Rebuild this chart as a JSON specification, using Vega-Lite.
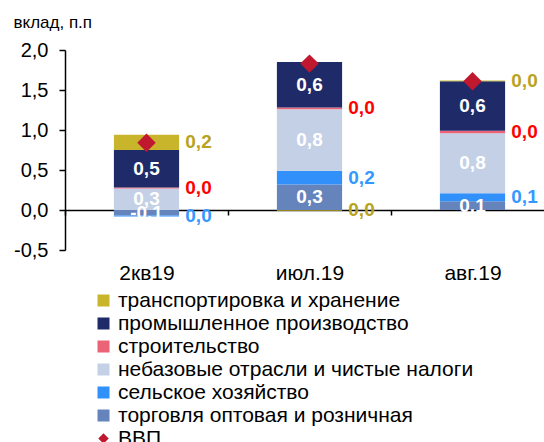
{
  "$schema": "https://vega.github.io/schema/vega-lite/v6.json",
  "width": 479,
  "height": 200,
  "autosize": {"type": "none"},
  "padding": {"left": 65, "top": 50, "right": 0, "bottom": 192},
  "background": "white",
  "config": {
    "view": {"stroke": null},
    "font": "Liberation Sans",
    "locale": {"number": {"decimal": ",", "thousands": " ", "grouping": [3], "currency": ["", ""], "minus": "-"}}
  },
  "datasets": {
    "sectors": [
      {"period": "2кв19", "series": "торговля оптовая и розничная", "value": -0.07},
      {"period": "2кв19", "series": "сельское хозяйство", "value": -0.01},
      {"period": "2кв19", "series": "небазовые отрасли и чистые налоги", "value": 0.27},
      {"period": "2кв19", "series": "строительство", "value": 0.01},
      {"period": "2кв19", "series": "промышленное производство", "value": 0.47},
      {"period": "2кв19", "series": "транспортировка и хранение", "value": 0.19},
      {"period": "июл.19", "series": "торговля оптовая и розничная", "value": 0.32},
      {"period": "июл.19", "series": "сельское хозяйство", "value": 0.17},
      {"period": "июл.19", "series": "небазовые отрасли и чистые налоги", "value": 0.77},
      {"period": "июл.19", "series": "строительство", "value": 0.02},
      {"period": "июл.19", "series": "промышленное производство", "value": 0.57},
      {"period": "июл.19", "series": "транспортировка и хранение", "value": -0.01},
      {"period": "авг.19", "series": "торговля оптовая и розничная", "value": 0.11},
      {"period": "авг.19", "series": "сельское хозяйство", "value": 0.10},
      {"period": "авг.19", "series": "небазовые отрасли и чистые налоги", "value": 0.75},
      {"period": "авг.19", "series": "строительство", "value": 0.03},
      {"period": "авг.19", "series": "промышленное производство", "value": 0.62},
      {"period": "авг.19", "series": "транспортировка и хранение", "value": 0.01}
    ],
    "gdp": [
      {"period": "2кв19", "series": "ВВП", "value": 0.84},
      {"period": "июл.19", "series": "ВВП", "value": 1.83},
      {"period": "авг.19", "series": "ВВП", "value": 1.61}
    ]
  },
  "encoding": {
    "x": {
      "field": "period",
      "type": "nominal",
      "sort": ["2кв19", "июл.19", "авг.19"],
      "scale": {"range": [0, 489], "paddingInner": 0, "paddingOuter": 0},
      "axis": {
        "title": null,
        "orient": "bottom",
        "offset": -40,
        "domainColor": "black",
        "domainWidth": 1.5,
        "tickBand": "extent",
        "tickColor": "black",
        "tickWidth": 1.5,
        "tickSize": 5,
        "labelPadding": 47,
        "labelFontSize": 21,
        "labelColor": "black",
        "labelAngle": 0
      }
    }
  },
  "layer": [
    {
      "data": {"name": "sectors"},
      "transform": [
        {"stack": "value", "groupby": ["period"], "as": ["y0", "y1"], "offset": "zero"}
      ],
      "mark": {"type": "bar", "width": {"band": 0.4}},
      "encoding": {
        "y": {
          "field": "y0",
          "type": "quantitative",
          "scale": {"domain": [-0.5, 2], "nice": false, "zero": false},
          "axis": {
            "title": "вклад, п.п",
            "values": [-0.5, 0, 0.5, 1, 1.5, 2],
            "tickCount": 12,
            "format": ".1f",
            "grid": false,
            "labelOverlap": false,
            "labelBound": false,
            "labelFlush": false,
            "domainColor": "black",
            "domainWidth": 1.5,
            "tickColor": "black",
            "tickWidth": 1.5,
            "tickSize": 6,
            "labelFontSize": 20,
            "labelColor": "black",
            "labelPadding": 11,
            "titleAngle": 0,
            "titleAlign": "left",
            "titleBaseline": "alphabetic",
            "titleX": -52,
            "titleY": -23,
            "titleFontSize": 17,
            "titleFontWeight": "normal",
            "titleColor": "black"
          }
        },
        "y2": {"field": "y1"},
        "color": {
          "field": "series",
          "type": "nominal",
          "scale": {
            "domain": ["транспортировка и хранение", "промышленное производство", "строительство", "небазовые отрасли и чистые налоги", "сельское хозяйство", "торговля оптовая и розничная"],
            "range": ["#C8B52B", "#1F2B68", "#EB6377", "#C4D0E6", "#3290FA", "#6584BB"]
          },
          "legend": {
            "orient": "none",
            "legendX": 28,
            "legendY": 240,
            "title": null,
            "padding": 0,
            "symbolType": "square",
            "symbolSize": 144,
            "symbolStrokeWidth": 0,
            "labelFontSize": 21,
            "labelColor": "black",
            "labelOffset": 4,
            "rowPadding": 1,
            "labelLimit": 500
          }
        }
      }
    },
    {
      "data": {"name": "sectors"},
      "transform": [
        {"stack": "value", "groupby": ["period"], "as": ["y0", "y1"], "offset": "zero"},
        {"calculate": "(datum.y0 + datum.y1) / 2", "as": "mid"},
        {"filter": {"field": "series", "oneOf": ["торговля оптовая и розничная", "небазовые отрасли и чистые налоги", "промышленное производство"]}}
      ],
      "mark": {"type": "text", "color": "white", "fontWeight": "bold", "fontSize": 19, "baseline": "middle"},
      "encoding": {
        "y": {"field": "mid", "type": "quantitative"},
        "text": {"field": "value", "type": "quantitative", "format": ".1f"}
      }
    },
    {
      "data": {"name": "sectors"},
      "transform": [
        {"stack": "value", "groupby": ["period"], "as": ["y0", "y1"], "offset": "zero"},
        {"calculate": "(datum.y0 + datum.y1) / 2", "as": "mid"},
        {"filter": {"field": "series", "equal": "транспортировка и хранение"}}
      ],
      "mark": {"type": "text", "color": "#B8A320", "fontWeight": "bold", "fontSize": 19, "baseline": "middle", "dx": 52},
      "encoding": {
        "y": {"field": "mid", "type": "quantitative"},
        "text": {"field": "value", "type": "quantitative", "format": ".1f"}
      }
    },
    {
      "data": {"name": "sectors"},
      "transform": [
        {"stack": "value", "groupby": ["period"], "as": ["y0", "y1"], "offset": "zero"},
        {"calculate": "(datum.y0 + datum.y1) / 2", "as": "mid"},
        {"filter": {"field": "series", "equal": "строительство"}}
      ],
      "mark": {"type": "text", "color": "#FF0000", "fontWeight": "bold", "fontSize": 19, "baseline": "middle", "dx": 52},
      "encoding": {
        "y": {"field": "mid", "type": "quantitative"},
        "text": {"field": "value", "type": "quantitative", "format": ".1f"}
      }
    },
    {
      "data": {"name": "sectors"},
      "transform": [
        {"stack": "value", "groupby": ["period"], "as": ["y0", "y1"], "offset": "zero"},
        {"calculate": "(datum.y0 + datum.y1) / 2", "as": "mid"},
        {"filter": {"field": "series", "equal": "сельское хозяйство"}}
      ],
      "mark": {"type": "text", "color": "#3399FF", "fontWeight": "bold", "fontSize": 19, "baseline": "middle", "dx": 52},
      "encoding": {
        "y": {"field": "mid", "type": "quantitative"},
        "text": {"field": "value", "type": "quantitative", "format": ".1f"}
      }
    },
    {
      "data": {"name": "gdp"},
      "mark": {"type": "point", "filled": true, "size": 340, "color": "#C0182F", "opacity": 1, "strokeWidth": 0},
      "encoding": {
        "y": {"field": "value", "type": "quantitative"},
        "shape": {
          "field": "series",
          "type": "nominal",
          "scale": {"domain": ["ВВП"], "range": ["diamond"]},
          "legend": {
            "orient": "none",
            "legendX": 28,
            "legendY": 378,
            "title": null,
            "padding": 0,
            "symbolSize": 110,
            "symbolFillColor": "#C0182F",
            "symbolStrokeWidth": 0,
            "labelFontSize": 21,
            "labelColor": "black",
            "labelOffset": 4
          }
        }
      }
    }
  ]
}
